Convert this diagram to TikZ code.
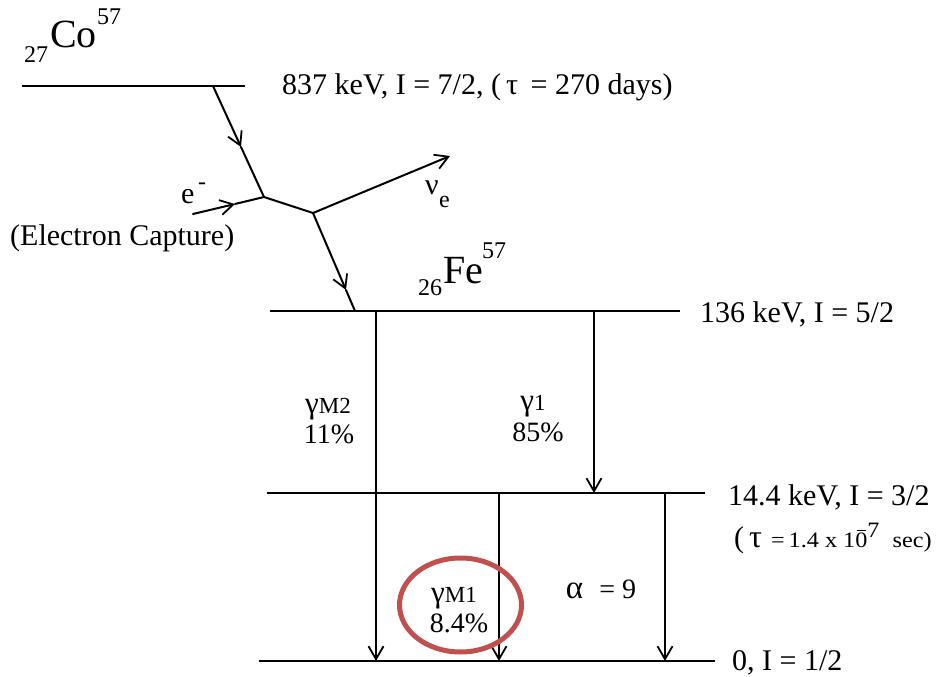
\documentclass[tikz,border=0pt]{standalone}
\usepackage{graphicx}
\usepackage{fontspec}
\setmainfont{Liberation Serif}
\usetikzlibrary{arrows.meta}
\definecolor{circred}{HTML}{C0504D}
\newcommand{\barzero}{\makebox[0pt][l]{\hspace{1.5pt}\raisebox{16pt}{\rule{8pt}{1.2pt}}}0}
\begin{document}
\begin{tikzpicture}[x=1pt,y=-1pt,
  level/.style={line width=2.3pt},
  trans/.style={line width=2pt, line cap=round},
  tipped/.style={-{Straight Barb[length=13pt,width=15pt,line width=1.8pt]}},
  lbl/.style={inner sep=0pt, anchor=base west, font=\fontsize{30}{32}\selectfont},
  glbl/.style={inner sep=0pt, anchor=base, font=\fontsize{28}{30}\selectfont},
  big/.style={inner sep=0pt, anchor=base west, font=\fontsize{40}{42}\selectfont},
  small/.style={inner sep=0pt, anchor=base west, font=\fontsize{24}{26}\selectfont}
]
\useasboundingbox (0,0) rectangle (938,677);
% levels
\coordinate (co1) at (22,86);
\coordinate (co2) at (245,86);
\coordinate (fe1) at (270,311);
\coordinate (fe2) at (680,311);
\coordinate (l141) at (267,493);
\coordinate (l142) at (705,493);
\coordinate (g1) at (259,661);
\coordinate (g2) at (715,661);
\draw[level] (co1) -- (co2);
\draw[level] (fe1) -- (fe2);
\draw[level] (l141) -- (l142);
\draw[level] (g1) -- (g2);
% decay path
\coordinate (p0) at (213,86);
\coordinate (m1) at (241,147);
\coordinate (k1) at (264,197);
\coordinate (k2) at (313,213);
\coordinate (m2) at (346,290);
\coordinate (p1) at (355,311);
\coordinate (es) at (193,214);
\coordinate (em) at (235,204);
\coordinate (nu) at (450,156);
\draw[trans,tipped] (p0) -- (m1);
\draw[trans] (m1) -- (k1) -- (k2);
\draw[trans,tipped] (k2) -- (m2);
\draw[trans] (m2) -- (p1);
\draw[trans,tipped] (es) -- (em);
\draw[trans] (em) -- (k1);
\draw[trans,tipped] (k2) -- (nu);
% gamma transitions
\coordinate (a1) at (376,311);
\coordinate (a2) at (376,661);
\coordinate (b1) at (594,311);
\coordinate (b2) at (594,493);
\coordinate (c1) at (499,493);
\coordinate (c2) at (499,661);
\coordinate (d1) at (665,493);
\coordinate (d2) at (665,661);
\draw[trans,tipped] (a1) -- (a2);
\draw[trans,tipped] (b1) -- (b2);
\draw[trans,tipped] (c1) -- (c2);
\draw[trans,tipped] (d1) -- (d2);
% isotope labels
\node[small] (coz) at (24,63) {27};
\node[big] (co) at (50,48) {Co};
\node[small] (coa) at (97,25) {57};
\node[small] (fez) at (418,295) {26};
\node[big] (fe) at (443,283) {Fe};
\node[small] (fea) at (482,258) {57};
% level labels
\node[lbl] (t837) at (282,95) {837 keV, I = 7/2, (\,τ\, = 270 days)};
\node[lbl] (t136) at (700,322) {136 keV, I = 5/2};
\node[lbl] (t144) at (728,505) {14.4 keV, I = 3/2};
\node[lbl] (ttau) at (734,547) {(\,{\fontsize{32}{32}\selectfont τ}\hspace{9pt}\scalebox{1.1}[1]{\fontsize{22}{24}\selectfont =\,1.4 x 1\barzero\raisebox{10pt}{7}\hspace{12pt}sec)}};
\node[lbl] (t0) at (732,670) {0, I = 1/2};
% electron / neutrino
\node[lbl] (ee) at (181,203) {e};
\node[small] (eminus) at (198,189) {-};
\node[lbl] (nnu) at (425,194) {ν};
\node[small] (nue) at (439,207) {e};
\node[lbl] (ecap) at (10,245) {(Electron Capture)};
% gamma labels
\node[glbl] (gm2) at (328,413) {{\fontsize{31}{32}\selectfont γ}{\fontsize{23}{24}\selectfont M2}};
\node[glbl] (gm2p) at (329,443) {11\%};
\node[glbl] (g1l) at (533,410) {{\fontsize{31}{32}\selectfont γ}{\fontsize{23}{24}\selectfont 1}};
\node[glbl] (g1p) at (538,441) {85\%};
\node[glbl] (gm1) at (454,602) {{\fontsize{31}{32}\selectfont γ}{\fontsize{23}{24}\selectfont M1}};
\node[glbl] (gm1p) at (459,632) {8.4\%};
\node[glbl] (alpha) at (601,598) {{\fontsize{33}{34}\selectfont α}\,\, = 9};
% highlight
\draw[circred, line width=5pt] (460.5,605) ellipse [x radius=61, y radius=47];
\end{tikzpicture}
\end{document}
